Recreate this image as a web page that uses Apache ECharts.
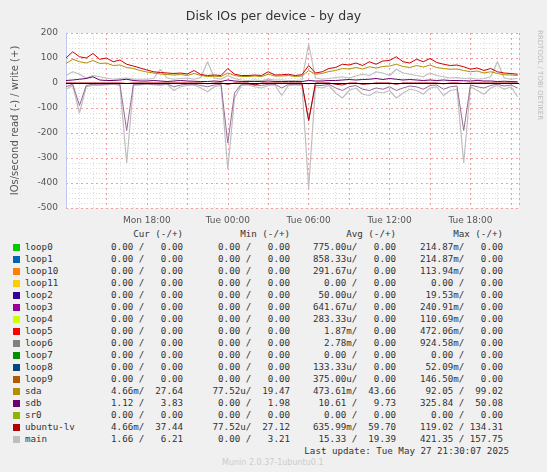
<!DOCTYPE html>
<html><head><meta charset="utf-8">
<script src="https://cdn.jsdelivr.net/npm/echarts@6/dist/echarts.min.js"></script>
<style>
body{margin:0;background:#f0f0f0;font-family:"DejaVu Sans",sans-serif;}
#c{position:absolute;left:0;top:0;width:547px;height:225px;}
.t{position:absolute;white-space:pre;font-family:"DejaVu Sans Mono",monospace;font-size:9.2px;color:#333;line-height:12px;}
.sq{position:absolute;width:7px;height:7px;}
</style></head><body>
<div id="c"></div>
<div id="leg"></div>
<script>
const tickLabels = {18:'Mon 18:00',24:'Tue 00:00',30:'Tue 06:00',36:'Tue 12:00',42:'Tue 18:00'};
const lvWrite = [100,125,105,100,118,95,100,85,92,75,68,60, 52,45,42,40,38,40,36,50,34,30,32,30, 58,35,30,30,32,30,45,32,33,35,30,33, 70,40,45,58,62,75,72,80,70,85,75,88, 90,105,85,80,95,85,98,82,75,70,72,65, 55,60,50,58,45,40,38,35];
const sdaWrite = [78,95,85,80,90,78,80,70,72,62,58,50, 44,40,36,34,32,34,30,38,30,26,27,26, 40,30,26,26,28,26,35,28,28,30,26,28, 50,35,38,46,50,58,56,62,56,65,60,66, 68,75,66,62,70,64,72,62,58,55,56,50, 45,48,40,45,38,33,32,30];
const sdbWrite = [10,12,15,18,25,12,10,10,12,15,10,8, 8,10,8,6,8,10,8,7,6,6,8,6, 12,8,6,6,6,6,8,6,6,6,6,6, 10,8,8,10,10,12,14,12,14,15,18,14, 18,15,12,14,12,10,12,10,12,10,10,9, 8,10,8,8,6,7,6,5];
const mainWrite = [30,45,35,20,30,25,20,15,18,20,15,15, 15,18,55,20,15,18,20,15,22,85,20,15, 30,18,12,10,12,10,15,12,12,10,10,12, 155,20,15,18,22,25,20,28,35,30,45,40, 30,55,40,35,30,25,40,30,25,20,22,18, 20,15,18,25,85,20,15,18];
const mainRead = [-25,-10,-120,-15,-10,-10,-8,-5,-10,-320,-10,-8, -5,-8,-10,-5,-30,-15,-10,-8,-20,-35,-15,-10, -345,-60,-10,-8,-15,-20,-10,-8,-50,-10,-8,-10, -420,-15,-20,-10,-40,-60,-30,-20,-45,-50,-35,-40, -30,-60,-40,-25,-30,-45,-20,-15,-50,-30,-25,-320, -15,-30,-45,-20,-10,-25,-15,-55];
const sdbRead = [-15,-5,-90,-10,-5,-5,-5,-3,-5,-190,-5,-5, -3,-5,-5,-3,-15,-8,-5,-5,-10,-15,-8,-5, -240,-40,-5,-5,-8,-10,-5,-5,-20,-5,-5,-5, -150,-10,-10,-5,-20,-30,-15,-10,-25,-30,-20,-25, -15,-30,-20,-12,-15,-25,-10,-8,-25,-15,-12,-190, -8,-15,-20,-10,-5,-12,-8,-20];
const lvRead = [0,0,0,0,0,0,0,0,0,-2,0,0, 0,0,0,0,0,0,0,0,0,-3,0,0, -5,0,0,0,-8,0,0,0,0,0,0,0, -150,0,0,0,-5,-8,0,0,-5,-3,0,0, 0,-5,0,0,0,0,0,0,-3,0,0,-2, 0,0,0,0,0,0,0,0];
const names = ['loop0','loop1','loop10','loop11','loop2','loop3','loop4','loop5','loop6','loop7','loop8','loop9','sda','sdb','sr0','ubuntu-lv','main'];
const colors = ['#00cc00','#0066b3','#ff8000','#ffcc00','#330099','#990099','#ccff00','#ff0000','#808080','#008f00','#00487d','#b35a00','#b38f00','#6b006b','#8fb300','#b30000','#bebebe'];
const curCol = ['0.00 /   0.00','0.00 /   0.00','0.00 /   0.00','0.00 /   0.00','0.00 /   0.00','0.00 /   0.00','0.00 /   0.00','0.00 /   0.00','0.00 /   0.00','0.00 /   0.00','0.00 /   0.00','0.00 /   0.00','4.66m/  27.64','1.12 /   3.83','0.00 /   0.00','4.66m/  37.44','1.66 /   6.21'];
const minCol = ['0.00 /   0.00','0.00 /   0.00','0.00 /   0.00','0.00 /   0.00','0.00 /   0.00','0.00 /   0.00','0.00 /   0.00','0.00 /   0.00','0.00 /   0.00','0.00 /   0.00','0.00 /   0.00','0.00 /   0.00','77.52u/  19.47','0.00 /   1.98','0.00 /   0.00','77.52u/  27.12','0.00 /   3.21'];
const avgCol = ['775.00u/   0.00','858.33u/   0.00','291.67u/   0.00','0.00 /   0.00','50.00u/   0.00','641.67u/   0.00','283.33u/   0.00','1.87m/   0.00','2.78m/   0.00','0.00 /   0.00','133.33u/   0.00','375.00u/   0.00','473.61m/  43.66','10.61 /   9.73','0.00 /   0.00','635.99m/  59.70','15.33 /  19.39'];
const maxCol = ['214.87m/   0.00','214.87m/   0.00','113.94m/   0.00','0.00 /   0.00','19.53m/   0.00','240.91m/   0.00','110.69m/   0.00','472.06m/   0.00','924.58m/   0.00','0.00 /   0.00','52.09m/   0.00','146.50m/   0.00','92.05 /  99.02','325.84 /  50.08','0.00 /   0.00','119.02 / 134.31','421.35 / 157.75'];

const hours = lvWrite.map((_, i) => 12 + i * 0.5);
const pts = arr => arr.map((v, i) => [hours[i], v]);
const line = (d, c, w, o) => ({type:'line', data:pts(d), symbol:'none', lineStyle:{color:c, width:w||1, opacity:o||1}, itemStyle:{color:c}, animation:false, z:3});

const chart = echarts.init(document.getElementById('c'));
chart.setOption({
  backgroundColor:'#f0f0f0',
  title:{text:'Disk IOs per device - by day', left:'center', top:5, textStyle:{fontSize:12.5, fontWeight:'normal', color:'#333', fontFamily:'DejaVu Sans'}},
  grid:{left:66, top:33, width:453, height:175, backgroundColor:'#fff', show:true, borderWidth:0},
  xAxis:{type:'value', min:12, max:45.6, interval:3,
    axisLine:{lineStyle:{color:'#c0c8ee'}}, axisTick:{show:false},
    axisLabel:{fontSize:9, color:'#555', fontFamily:'DejaVu Sans', formatter:v => tickLabels[v] || '', showMaxLabel:false},
    splitLine:{lineStyle:{color:'#f0a0a0', type:[2,3]}},
    minorTick:{show:false, splitNumber:3}, minorSplitLine:{show:true, lineStyle:{color:'#ddd', type:[1,2]}}},
  yAxis:{type:'value', min:-500, max:200, interval:100,
    name:'IOs/second read (-) / write (+)', nameLocation:'middle', nameGap:46, nameTextStyle:{fontSize:10, color:'#555', fontFamily:'DejaVu Sans'},
    axisLine:{show:true, lineStyle:{color:'#c0c8ee'}}, axisTick:{show:false},
    axisLabel:{fontSize:9, color:'#555', fontFamily:'DejaVu Sans'},
    splitLine:{lineStyle:{color:'#f0a0a0', type:[2,3]}},
    minorSplitLine:{show:true, lineStyle:{color:'#ddd', type:[1,2]}}, minorTick:{show:false, splitNumber:5}},
  series:[
    line(mainRead, '#bebebe', 1.2),
    line(mainWrite, '#bebebe', 1.2),
    line(sdbRead, '#9a6a9a', 1),
    line(lvRead, '#b30000', 1),
    line(sdaWrite, '#b38f00', 1),
    line(lvWrite, '#cc0000', 1),
    line(sdbWrite, '#6b006b', 1),
    {type:'line', data:[], symbol:'none', markLine:{silent:true, symbol:'none', label:{show:false}, lineStyle:{color:'#000', type:'solid', width:1}, data:[{yAxis:0}]}, z:5}
  ],
  graphic:[
    {type:'text', right:4, top:30, rotation:-Math.PI/2, style:{text:'RRDTOOL / TOBI OETIKER', fontSize:7, fill:'#bbb', fontFamily:'DejaVu Sans'}}
  ]
});

const leg = document.getElementById('leg');
let html = '';
const colR = [183, 290, 396, 503];
const hdr = ['Cur (-/+)','Min (-/+)','Avg (-/+)','Max (-/+)'];
hdr.forEach((h, j) => { html += `<div class="t" style="right:${547-colR[j]}px;top:228px">${h}</div>`; });
names.forEach((n, i) => {
  const y = 241 + i * 12;
  html += `<div class="sq" style="left:13px;top:${y+3}px;background:${colors[i]}"></div>`;
  html += `<div class="t" style="left:25px;top:${y}px">${n}</div>`;
  [curCol, minCol, avgCol, maxCol].forEach((col, j) => {
    html += `<div class="t" style="right:${547-colR[j]}px;top:${y}px">${col[i]}</div>`;
  });
});
html += `<div class="t" style="right:38px;top:445px">Last update: Tue May 27 21:30:07 2025</div>`;
html += `<div style="position:absolute;left:222px;top:458px;font-size:8px;color:#ccc;font-family:'DejaVu Sans'">Munin 2.0.37-1ubuntu0.1</div>`;
leg.innerHTML = html;
</script>
</body></html>
